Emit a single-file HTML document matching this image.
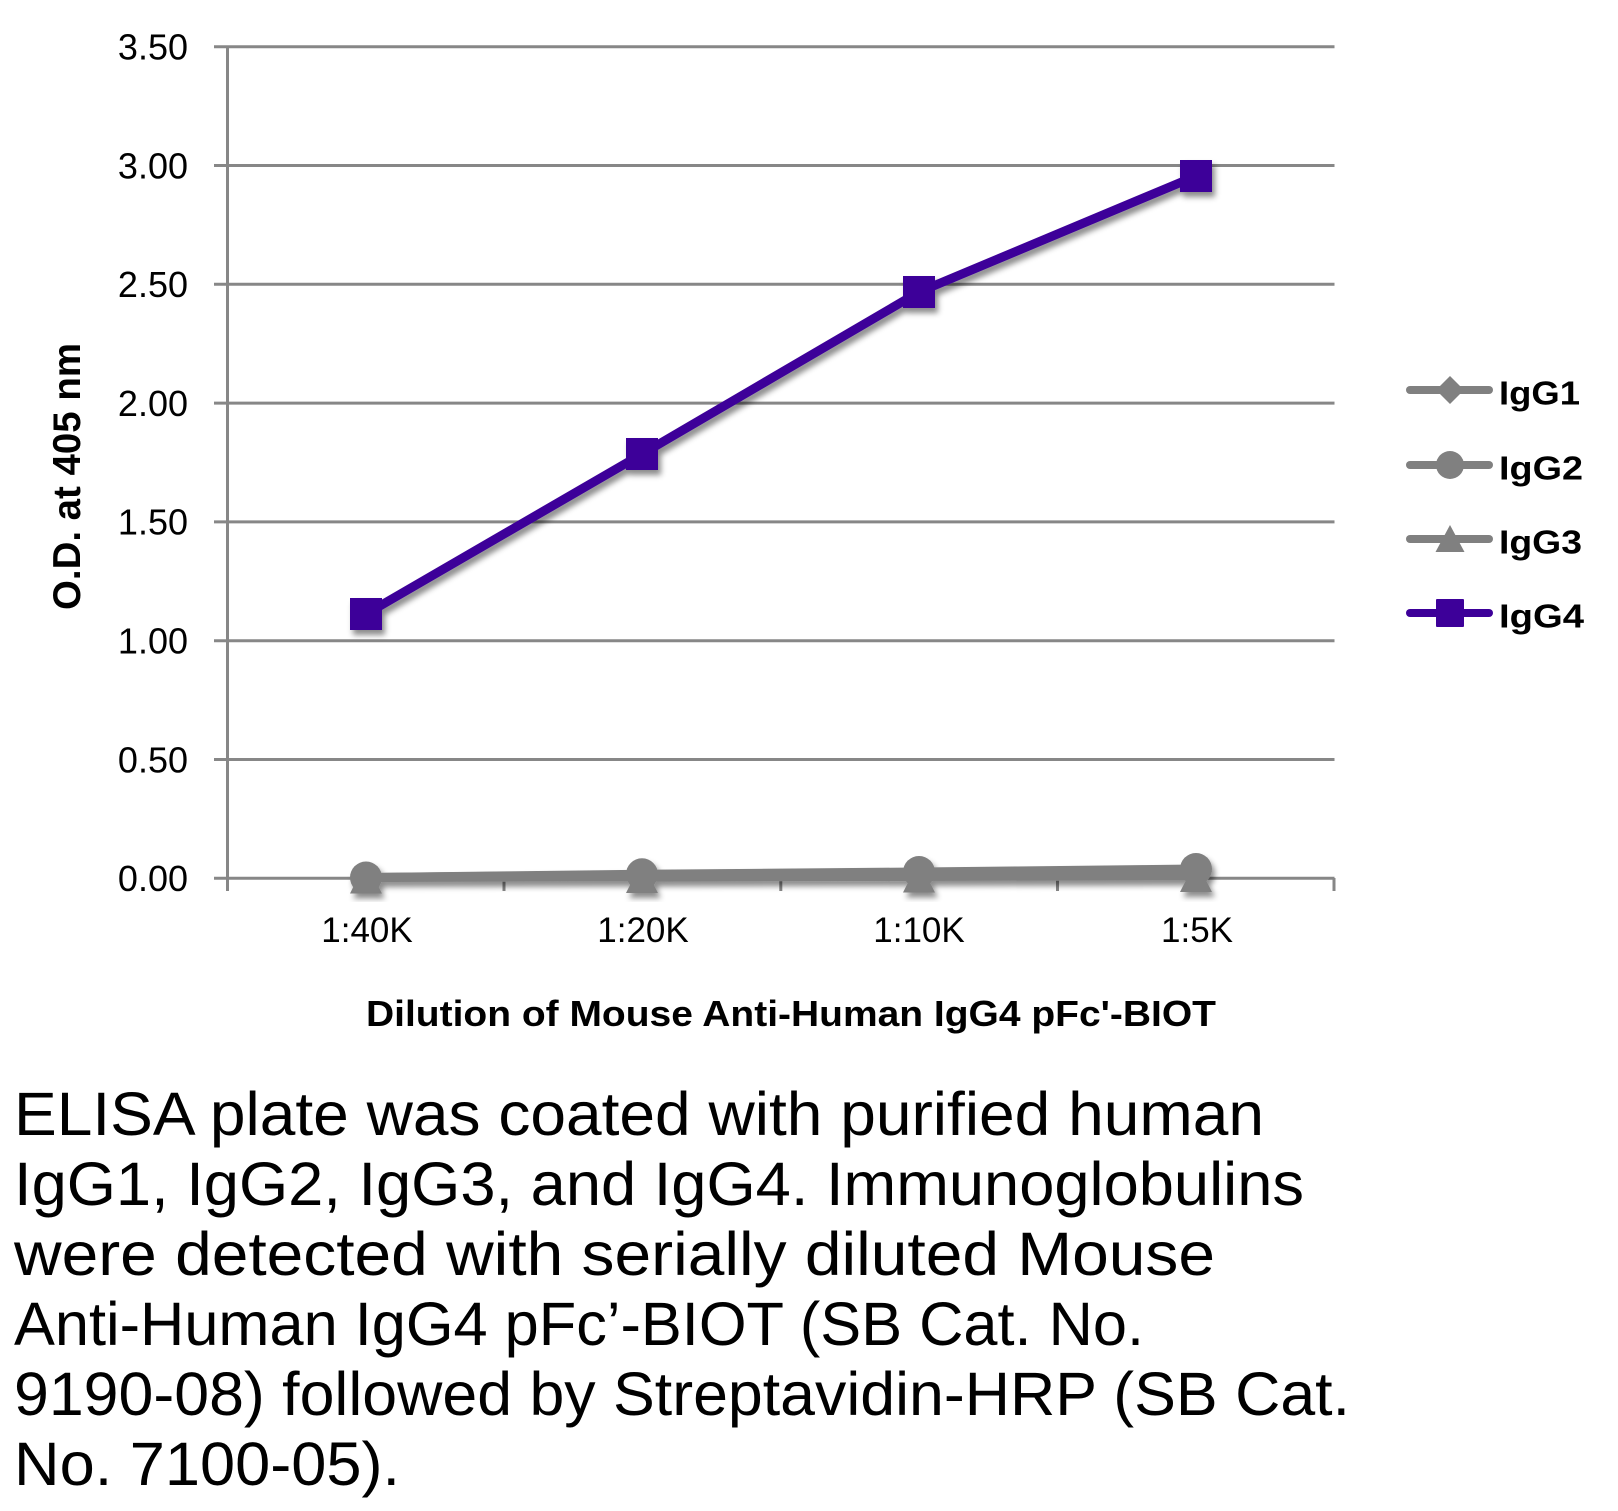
<!DOCTYPE html>
<html>
<head>
<meta charset="utf-8">
<style>
  html,body{margin:0;padding:0;background:#fff;}
  svg{display:block;}
  text{font-family:"Liberation Sans",sans-serif;fill:#000;}
</style>
</head>
<body>
<svg width="1618" height="1511" viewBox="0 0 1618 1511" xmlns="http://www.w3.org/2000/svg">
  <defs>
    <filter id="sh" x="-20%" y="-20%" width="140%" height="140%">
      <feDropShadow dx="3" dy="5" stdDeviation="3" flood-color="#000" flood-opacity="0.45"/>
    </filter>
  </defs>
  <rect width="1618" height="1511" fill="#fff"/>

  <!-- gridlines -->
  <g stroke="#878787" stroke-width="3">
    <line x1="214" y1="46.7" x2="1334.5" y2="46.7"/>
    <line x1="214" y1="165.5" x2="1334.5" y2="165.5"/>
    <line x1="214" y1="284.3" x2="1334.5" y2="284.3"/>
    <line x1="214" y1="403.1" x2="1334.5" y2="403.1"/>
    <line x1="214" y1="521.9" x2="1334.5" y2="521.9"/>
    <line x1="214" y1="640.7" x2="1334.5" y2="640.7"/>
    <line x1="214" y1="759.5" x2="1334.5" y2="759.5"/>
    <line x1="214" y1="878.3" x2="1334.5" y2="878.3"/>
    <!-- y axis -->
    <line x1="227.5" y1="46" x2="227.5" y2="891"/>
    <!-- x ticks -->
    <line x1="504" y1="878" x2="504" y2="891"/>
    <line x1="780.8" y1="878" x2="780.8" y2="891"/>
    <line x1="1057.5" y1="878" x2="1057.5" y2="891"/>
    <line x1="1334" y1="878" x2="1334" y2="891"/>
  </g>

  <!-- y tick labels -->
  <g font-size="36" text-anchor="end">
    <text x="188" y="59.5">3.50</text>
    <text x="188" y="178.3">3.00</text>
    <text x="188" y="297.1">2.50</text>
    <text x="188" y="415.9">2.00</text>
    <text x="188" y="534.7">1.50</text>
    <text x="188" y="653.5">1.00</text>
    <text x="188" y="772.3">0.50</text>
    <text x="188" y="891.1">0.00</text>
  </g>

  <!-- x tick labels -->
  <g font-size="35" text-anchor="middle">
    <text x="367" y="942">1:40K</text>
    <text x="643" y="942">1:20K</text>
    <text x="919" y="942">1:10K</text>
    <text x="1197" y="942">1:5K</text>
  </g>

  <!-- axis titles -->
  <text x="791" y="1026" font-size="36" font-weight="bold" text-anchor="middle" textLength="850" lengthAdjust="spacingAndGlyphs">Dilution of Mouse Anti-Human IgG4 pFc'-BIOT</text>
  <text transform="translate(80,476.5) rotate(-90)" font-size="39" font-weight="bold" text-anchor="middle" textLength="267" lengthAdjust="spacingAndGlyphs">O.D. at 405 nm</text>

  <!-- gray series -->
  <g filter="url(#sh)">
    <!-- IgG1 diamond -->
    <polyline points="366,877.5 642,875 919,873.5 1196,871.5" fill="none" stroke="#808080" stroke-width="9" stroke-linejoin="round"/>
    <g fill="#808080">
      <polygon points="366,861.5 382,877.5 366,893.5 350,877.5"/>
      <polygon points="642,859 658,875 642,891 626,875"/>
      <polygon points="919,857.5 935,873.5 919,889.5 903,873.5"/>
      <polygon points="1196,855.5 1212,871.5 1196,887.5 1180,871.5"/>
    </g>
    <!-- IgG2 circle -->
    <polyline points="366,877.5 642,874.3 919,872 1196,869" fill="none" stroke="#808080" stroke-width="9" stroke-linejoin="round"/>
    <g fill="#808080">
      <circle cx="366" cy="877.5" r="16"/>
      <circle cx="642" cy="874.3" r="16"/>
      <circle cx="919" cy="872" r="16"/>
      <circle cx="1196" cy="869" r="16"/>
    </g>
    <!-- IgG3 triangle -->
    <polyline points="366,877.5 642,877 919,876.5 1196,876" fill="none" stroke="#808080" stroke-width="9" stroke-linejoin="round"/>
    <g fill="#808080">
      <polygon points="366,861.5 382,893.5 350,893.5"/>
      <polygon points="642,861 658,893 626,893"/>
      <polygon points="919,860.5 935,892.5 903,892.5"/>
      <polygon points="1196,860 1212,892 1180,892"/>
    </g>
  </g>

  <!-- IgG4 purple -->
  <g filter="url(#sh)">
    <polyline points="366,614 642,454 919,292 1196,176" fill="none" stroke="#3d0099" stroke-width="9" stroke-linejoin="round"/>
    <g fill="#3d0099">
      <rect x="350" y="598" width="32" height="32"/>
      <rect x="626" y="438" width="32" height="32"/>
      <rect x="903" y="276" width="32" height="32"/>
      <rect x="1180" y="160" width="32" height="32"/>
    </g>
  </g>

  <!-- legend -->
  <g stroke-linecap="round" stroke-width="8">
    <line x1="1410" y1="390" x2="1489" y2="390" stroke="#808080"/>
    <line x1="1410" y1="465" x2="1489" y2="465" stroke="#808080"/>
    <line x1="1410" y1="539" x2="1489" y2="539" stroke="#808080"/>
    <line x1="1410" y1="613" x2="1489" y2="613" stroke="#3d0099"/>
  </g>
  <polygon points="1450,376 1464,390 1450,404 1436,390" fill="#808080"/>
  <circle cx="1450" cy="465" r="14" fill="#808080"/>
  <polygon points="1450,525 1464.5,552 1435.5,552" fill="#808080"/>
  <rect x="1436" y="599" width="28" height="28" rx="1" fill="#3d0099"/>
  <g font-size="33" font-weight="bold">
    <text x="1499" y="404.5" textLength="81" lengthAdjust="spacingAndGlyphs">IgG1</text>
    <text x="1499" y="479.5" textLength="84" lengthAdjust="spacingAndGlyphs">IgG2</text>
    <text x="1499" y="553.5" textLength="83" lengthAdjust="spacingAndGlyphs">IgG3</text>
    <text x="1499" y="627.5" textLength="85" lengthAdjust="spacingAndGlyphs">IgG4</text>
  </g>

  <!-- caption -->
  <g font-size="61" style="white-space:pre">
    <text x="14" y="1135" textLength="1250" lengthAdjust="spacingAndGlyphs">ELISA plate was coated with purified human</text>
    <text x="14" y="1205" textLength="1290" lengthAdjust="spacingAndGlyphs">IgG1, IgG2, IgG3, and IgG4.  Immunoglobulins</text>
    <text x="14" y="1275" textLength="1201" lengthAdjust="spacingAndGlyphs">were detected with serially diluted Mouse</text>
    <text x="14" y="1345" textLength="1130" lengthAdjust="spacingAndGlyphs">Anti-Human IgG4 pFc’-BIOT (SB Cat. No.</text>
    <text x="14" y="1415" textLength="1336" lengthAdjust="spacingAndGlyphs">9190-08) followed by Streptavidin-HRP (SB Cat.</text>
    <text x="14" y="1485" textLength="386" lengthAdjust="spacingAndGlyphs">No. 7100-05).</text>
  </g>
</svg>
</body>
</html>
